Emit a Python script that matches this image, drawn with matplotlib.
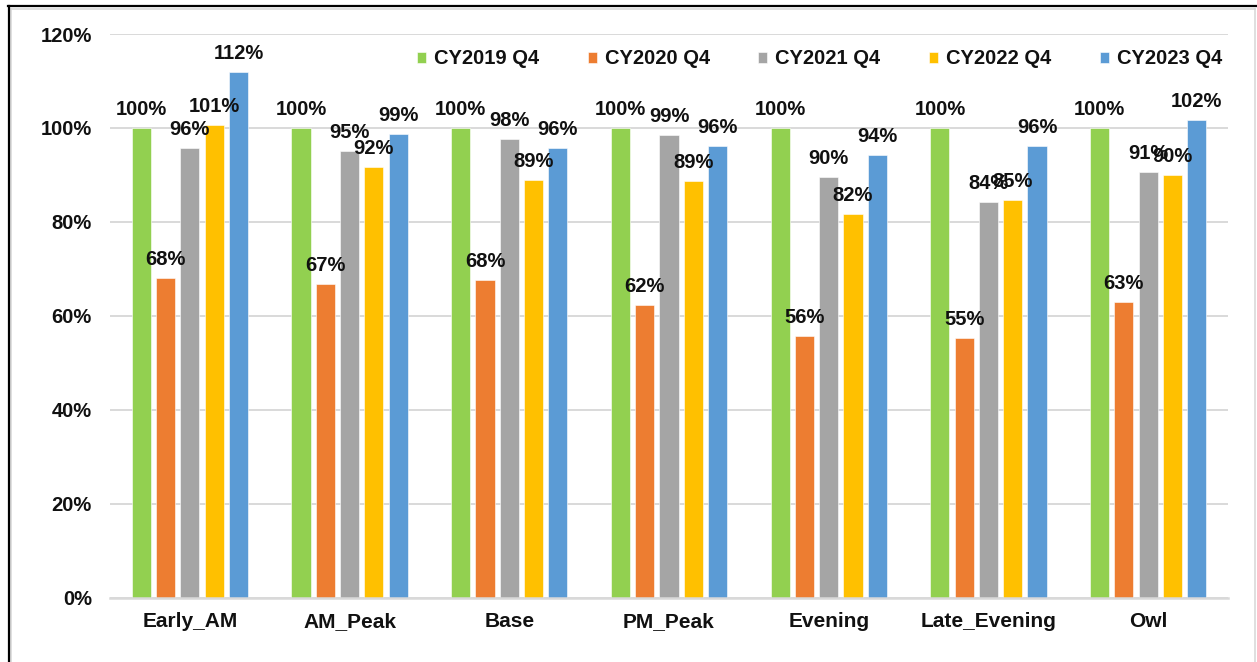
import matplotlib
matplotlib.use('Agg')
import matplotlib.pyplot as plt
import numpy as np
from matplotlib.lines import Line2D

categories = ['Early_AM', 'AM_Peak', 'Base', 'PM_Peak', 'Evening', 'Late_Evening', 'Owl']
series_names = ['CY2019 Q4', 'CY2020 Q4', 'CY2021 Q4', 'CY2022 Q4', 'CY2023 Q4']
cy2019 = [100.0, 100.0, 100.0, 100.0, 100.0, 100.0, 100.0]
cy2020 = [68.0, 66.7, 67.7, 62.4, 55.8, 55.3, 63.0]
cy2021 = [95.8, 95.1, 97.6, 98.6, 89.6, 84.3, 90.6]
cy2022 = [100.6, 91.6, 88.9, 88.7, 81.7, 84.6, 89.9]
cy2023 = [111.9, 98.8, 95.8, 96.1, 94.2, 96.1, 101.6]
yticks = [0, 20, 40, 60, 80, 100, 120]
colors = ['#92D050', '#ED7D31', '#A5A5A5', '#FFC000', '#5B9BD5']

series = [cy2019, cy2020, cy2021, cy2022, cy2023]

W, H = 1257, 662
fig = plt.figure(figsize=(W / 100, H / 100), dpi=100)
fig.patch.set_facecolor('white')

ax = fig.add_axes([110 / W, 1 - 597.7 / H, (1228 - 110) / W, (597.7 - 34) / H])
ax.set_facecolor('white')

FONT = 'Liberation Sans'
x = np.arange(len(categories))
step = 0.152
width = 0.12
for i, (vals, name, c) in enumerate(zip(series, series_names, colors)):
    pos = x + (i - 2) * step
    bars = ax.bar(pos, vals, width=width, color=c, label=name, zorder=3,
                  edgecolor='white', linewidth=0.4)
    for xp, v in zip(pos, vals):
        ax.annotate(f'{v:.0f}%', (xp, v), xytext=(0, 13), textcoords='offset pixels',
                    ha='center', va='baseline', fontsize=14.5, fontweight='bold',
                    family=FONT, color='#111111', zorder=5)

ax.set_xlim(-0.5, len(categories) - 0.5)
ax.set_ylim(0, 120)
ax.set_yticks(yticks)
ax.set_yticklabels([f'{t}%' for t in yticks])
ax.set_xticks(x)
ax.set_xticklabels(categories)
ax.grid(axis='y', color='#D9D9D9', linewidth=1.4, zorder=0)
ax.set_axisbelow(True)
for s in ['top', 'right', 'left']:
    ax.spines[s].set_visible(False)
ax.spines['bottom'].set_color('#D9D9D9')
ax.spines['bottom'].set_linewidth(1.8)
ax.spines['bottom'].set_zorder(4)
ax.tick_params(axis='both', length=0)
ax.tick_params(axis='y', pad=13)
ax.tick_params(axis='x', pad=10)
for lab in ax.get_xticklabels():
    lab.set_fontsize(15)
    lab.set_fontweight('bold')
    lab.set_family(FONT)
    lab.set_color('#111111')
for lab in ax.get_yticklabels():
    lab.set_fontsize(14.5)
    lab.set_fontweight('bold')
    lab.set_family(FONT)
    lab.set_color('#111111')

leg = ax.legend(loc='center right', bbox_to_anchor=(1222 / W, 1 - 59 / H),
                bbox_transform=fig.transFigure, ncol=5, frameon=False,
                handlelength=0.45, handleheight=0.45, handletextpad=0.4,
                columnspacing=2.4, borderaxespad=0, borderpad=0,
                prop={'family': FONT, 'weight': 'bold', 'size': 14.5})
for t in leg.get_texts():
    t.set_color('#111111')

# chart frame lines
def fx(px):
    return px / W

def fy(py):
    return 1 - py / H

fig.add_artist(Line2D([fx(10.5), fx(10.5)], [fy(8.5), fy(H + 5)], color='#D9D9D9', lw=1.2, transform=fig.transFigure))
fig.add_artist(Line2D([fx(10.5), fx(1255)], [fy(8.5), fy(8.5)], color='#D9D9D9', lw=1.2, transform=fig.transFigure))
fig.add_artist(Line2D([fx(1255), fx(1255)], [fy(8.5), fy(H + 5)], color='#D9D9D9', lw=1.2, transform=fig.transFigure))
fig.add_artist(Line2D([fx(9), fx(9)], [fy(6), fy(H + 5)], color='black', lw=1.6, transform=fig.transFigure))
fig.add_artist(Line2D([fx(8.2), fx(W + 5)], [fy(6), fy(6)], color='black', lw=1.6, transform=fig.transFigure))

fig.savefig('out.png', dpi=100, facecolor='white')
